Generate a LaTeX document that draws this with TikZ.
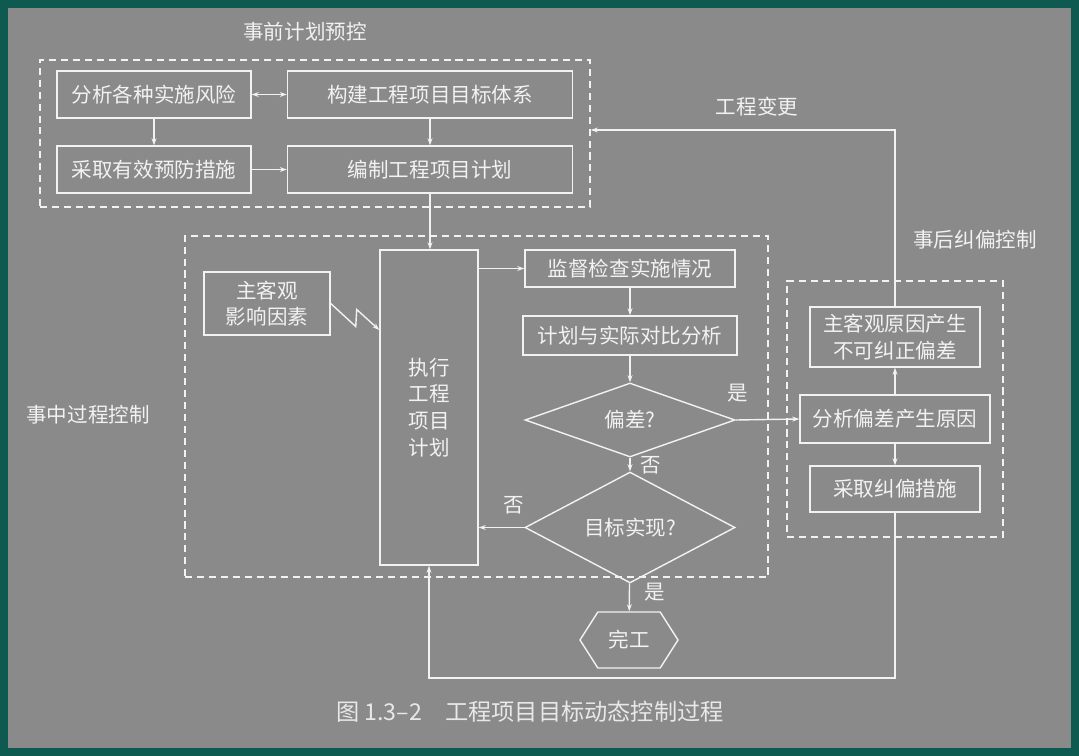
\documentclass[tikz,border=0pt]{standalone}
\usepackage{fontspec}
\setmainfont{Noto Sans CJK SC}
\usetikzlibrary{shapes.geometric,shapes.symbols,arrows.meta}
\definecolor{bgteal}{HTML}{0F5A50}
\definecolor{bggray}{HTML}{8A8A8A}
\definecolor{chalk}{HTML}{F2F2F2}
\tikzset{
  box/.style={draw=chalk, line width=1pt, text=chalk, align=center, inner sep=0pt,
    font=\fontsize{14.6}{19}\selectfont},
  frame/.style={draw=chalk, line width=1pt, inner sep=0pt, dash pattern=on 5pt off 3.5pt},
  lbl/.style={text=chalk, font=\fontsize{14.6}{17}\selectfont},
  link/.style={draw=chalk, line width=1pt, -{Stealth[length=5pt,width=3.5pt]}},
}

\begin{document}
\begin{tikzpicture}[x=0.025cm, y=-0.025cm]
  \fill[bgteal] (0,0) rectangle (1079,756);          % outer border
  \fill[bggray] (8,8) rectangle (1071,748);

  % planning stage
  \node[lbl] (pretitle) at (305,32) {事前计划预控};
  \node[frame, minimum width=13.75cm, minimum height=3.675cm] (pre) at (315,133.5) {};
  \node[box, minimum width=4.85cm, minimum height=1.175cm] (risk) at (154,94.5) {分析各种实施风险};
  \node[box, minimum width=7.125cm, minimum height=1.175cm] (goals) at (430,94.5) {构建工程项目目标体系};
  \node[box, minimum width=4.85cm, minimum height=1.175cm] (prevent) at (154,169.5) {采取有效预防措施};
  \node[box, minimum width=7.125cm, minimum height=1.175cm] (plan) at (430,169.5) {编制工程项目计划};
  \draw[link, {Stealth[length=5pt,width=3.5pt]}-{Stealth[length=5pt,width=3.5pt]}] (risk) -- (goals);
  \draw[link] (risk) -- (prevent);
  \draw[link] (goals) -- (plan);
  \draw[link] (prevent) -- (plan);

  % execution stage
  \node[lbl] (midtitle) at (88,415) {事中过程控制};
  \node[frame, minimum width=14.575cm, minimum height=8.525cm] (mid) at (476.5,406.5) {};
  \node[box, minimum width=2.45cm, minimum height=7.875cm] (exec) at (429,407.5) {执行\\工程\\项目\\计划};
  \node[box, minimum width=3.15cm, minimum height=1.575cm] (factors) at (267,303.5) {主客观\\影响因素};
  \node[box, minimum width=5.25cm, minimum height=0.925cm] (monitor) at (630,268.5) {监督检查实施情况};
  \node[box, minimum width=5.35cm, minimum height=0.975cm] (compare) at (630,335.5) {计划与实际对比分析};
  \node[box, diamond, minimum width=5.25cm, minimum height=1.85cm] (dev) at (630,420) {偏差?};
  \node[box, diamond, minimum width=5.25cm, minimum height=2.025cm] (goal) at (630,527.5) {目标实现?};
  \node[box, signal, signal to=west and east, signal pointer angle=115,
    minimum width=2.45cm, minimum height=1.4cm] (done) at (629,640) {完工};
  \draw[link] (plan.south) -- (plan.south |- exec.north);
  \draw[link] (exec.east |- monitor) -- (monitor.west);
  \draw[link] (factors.east) -- ++(25,23) -- ++(1,-17) -- (exec.west |- 0,330);   % zigzag
  \draw[link] (monitor) -- (compare);
  \draw[link] (compare) -- (dev);
  \draw[link] (dev) -- (goal);
  \draw[link] (goal.west) -- (goal.west -| exec.east);
  \draw[link] (goal) -- (done);
  \node[lbl] (yes1) at (738,393) {是};
  \node[lbl] (no1) at (651,465) {否};
  \node[lbl] (no2) at (514,505) {否};
  \node[lbl] (yes2) at (655,592) {是};

  % correction stage
  \node[lbl] (posttitle) at (975,240) {事后纠偏控制};
  \node[frame, minimum width=5.4cm, minimum height=6.4cm] (post) at (895,409) {};
  \node[box, minimum width=4.25cm, minimum height=1.5cm] (uncorr) at (895,337) {主客观原因产生\\不可纠正偏差};
  \node[box, minimum width=4.75cm, minimum height=1.2cm] (cause) at (895,419) {分析偏差产生原因};
  \node[box, minimum width=4.25cm, minimum height=1.15cm] (measures) at (895,489) {采取纠偏措施};
  \draw[link] (dev.east) -- (cause.west);
  \draw[link] (cause) -- (uncorr);
  \draw[link] (cause) -- (measures);

  % feedback loops
  \coordinate (change) at (895,130);
  \coordinate (back) at (895,678);
  \draw[link] (uncorr.north) -- (change) -- (change -| pre.east);
  \node[lbl] (changetxt) at (757,107) {工程变更};
  \draw[link] (measures.south) -- (back) -| (exec.south);

  \node[text=chalk!90!bggray, font=\fontsize{16.5}{20}\selectfont] (caption) at (530,712)
    {图 1.3--2\quad 工程项目目标动态控制过程};
\end{tikzpicture}
\end{document}
